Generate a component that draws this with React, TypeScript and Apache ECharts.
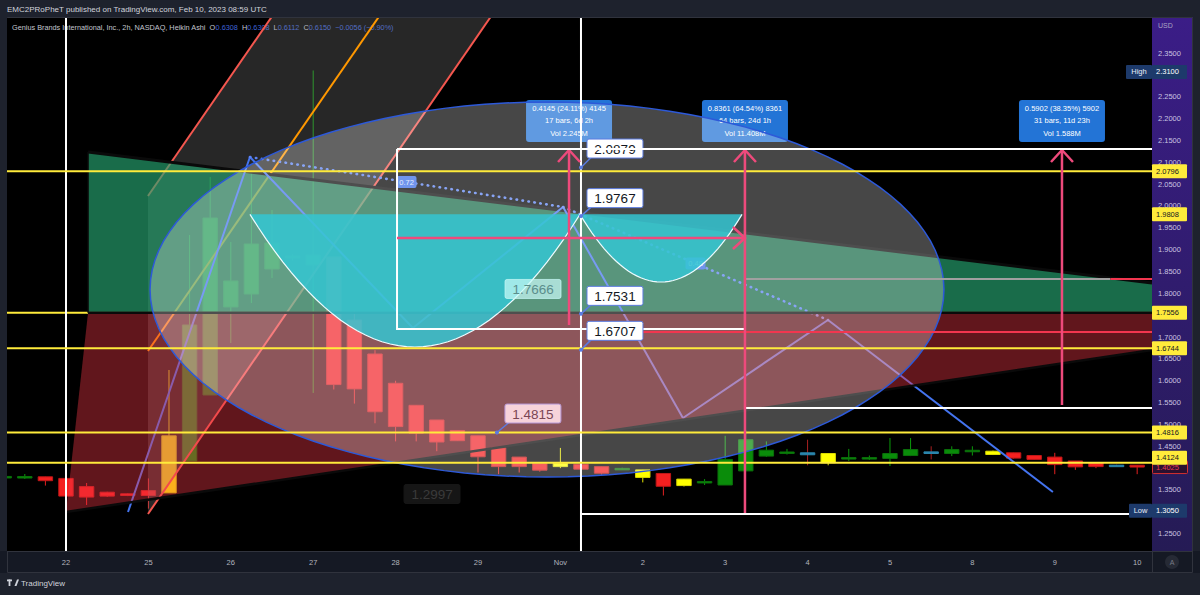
import React, { useEffect, useRef } from 'react';
import * as echarts from 'echarts';

// ---------------- axes ----------------
const X_MIN = 0.136;
const X_MAX = 55.72;
const Y_MIN = 1.2104;
const Y_MAX = 2.4301;
// ticks that are not hidden behind the price-axis badges
const priceTicks = [1.25, 1.35, 1.45, 1.5, 1.55, 1.6, 1.65, 1.7, 1.8, 1.85, 1.9, 1.95, 2.0, 2.05, 2.1, 2.15, 2.2, 2.25, 2.35];
const dayLabels = ['22', '25', '26', '27', '28', '29', 'Nov', '2', '3', '4', '5', '8', '9', '10'];
const dayLabelBars = [3, 7, 11, 15, 19, 23, 27, 31, 35, 39, 43, 47, 51, 55];

// ---------------- Heikin Ashi bars (2h) ----------------
const opens = [1.3795, 1.3798, 1.3802, 1.3765, 1.3578, 1.345, 1.3413, 1.3486, 1.3434, 1.4164, 1.5674, 1.7688, 1.7985, 1.8557, 1.8809, 1.8649, 1.8832, 1.739, 1.6612, 1.5942, 1.5438, 1.5102, 1.4862, 1.474, 1.4463, 1.4253, 1.4111, 1.4111, 1.4088, 1.4035, 1.3985, 1.396, 1.3878, 1.3749, 1.3685, 1.3614, 1.3937, 1.4276, 1.436, 1.4351, 1.4335, 1.4232, 1.4232, 1.4223, 1.4289, 1.4372, 1.4335, 1.4399, 1.4388, 1.4351, 1.4289, 1.4253, 1.4164, 1.4124, 1.4068, 1.4068];
const closes = [1.381, 1.3808, 1.3713, 1.336, 1.3338, 1.336, 1.3374, 1.3374, 1.474, 1.7276, 1.9724, 1.8283, 1.9129, 1.9152, 1.8855, 1.8878, 1.5912, 1.5813, 1.529, 1.4951, 1.48, 1.4598, 1.4628, 1.426, 1.4035, 1.4035, 1.3953, 1.4035, 1.3976, 1.3884, 1.3995, 1.3788, 1.3585, 1.3601, 1.3695, 1.42, 1.4651, 1.4411, 1.437, 1.4306, 1.4124, 1.4242, 1.4242, 1.4335, 1.4425, 1.4335, 1.4425, 1.4409, 1.4312, 1.423, 1.42, 1.4081, 1.4029, 1.4035, 1.4062, 1.4025];
const lows = [1.378, 1.3752, 1.3601, 1.334, 1.3157, 1.334, 1.336, 1.3074, 1.3434, 1.4164, 1.5674, 1.6864, 1.7779, 1.8351, 1.875, 1.572, 1.58, 1.5477, 1.5026, 1.4612, 1.4612, 1.4388, 1.4628, 1.39, 1.3862, 1.39, 1.392, 1.4, 1.395, 1.385, 1.396, 1.3674, 1.3374, 1.358, 1.3614, 1.3614, 1.3937, 1.426, 1.4312, 1.4065, 1.4065, 1.4164, 1.4187, 1.4049, 1.4276, 1.42, 1.4276, 1.4289, 1.43, 1.422, 1.419, 1.3862, 1.396, 1.4, 1.405, 1.3862];
const highs = [1.383, 1.3866, 1.3802, 1.378, 1.366, 1.346, 1.342, 1.3765, 1.6246, 1.9335, 2.0662, 1.9175, 2.0754, 1.9907, 1.89, 2.31, 1.8832, 1.76, 1.67, 1.6, 1.5438, 1.5102, 1.4862, 1.474, 1.4463, 1.4253, 1.4111, 1.4463, 1.4088, 1.4035, 1.401, 1.396, 1.3878, 1.3749, 1.3749, 1.474, 1.4873, 1.4612, 1.444, 1.4651, 1.4335, 1.444, 1.4289, 1.469, 1.469, 1.45, 1.45, 1.45, 1.44, 1.4351, 1.4289, 1.4351, 1.4164, 1.4124, 1.408, 1.4068];
const barColors = ['g', 'g', 'r', 'r', 'r', 'r', 'r', 'r', 'y', 'g', 'g', 'g', 'g', 'g', 'g', 'g', 'r', 'r', 'r', 'r', 'r', 'r', 'r', 'r', 'r', 'r', 'r', 'y', 'r', 'r', 'g', 'y', 'r', 'y', 'g', 'g', 'g', 'g', 'g', 't', 'y', 'g', 'g', 'g', 'g', 't', 'g', 'g', 'y', 'r', 'r', 'r', 'r', 'r', 't', 'r'];

// ---------------- drawings (bar index, price) ----------------
const yellowLevels = [2.0796, 1.6744, 1.4816, 1.4124];
const zoneMid = 1.7556;
const zoneLeftBars = [4.07, 3.0];
const zoneTop = [2.1235, 1.8237];
const zoneBottom = [1.2997, 1.6704];
const channelStartBar = 6.98;
const channelStartLevels = [2.0228, 1.6681, 1.2951];
const channelEndBars = [13.55, 18.75, 24.18];
const channelEndLevel = 2.4713;
const ellipseCenter = [26.35, 1.8088];
const ellipseRadius = [19.27, 0.4291];
const cupBars = [11.93, 27.95, 35.82];
const cupLevels = [1.9808, 1.6772, 1.826];
const patternBars = [6.01, 11.93, 19.84, 27.13, 32.95, 39.99, 50.91];
const patternLevels = [1.2997, 2.112, 1.7207, 1.9976, 1.5148, 1.739, 1.3454];
const patternRatios = ['0.72', '0.48'];
const whiteVerticalBars = [3, 28];
const whiteRayLevels = [2.1303, 1.5376, 1.295];
const whiteRayStartBars = [19.07, 35.96, 28.0];
const boxBars = [19.07, 35.96];
const boxLevels = [2.1303, 1.7184];
const grayRayLevel = 1.8328;
const grayRayBars = [35.96, 53.7];
const redRayLevels = [1.7116, 1.8328];
const redRayStartBars = [31.0, 53.7];
const measureBars = [27.42, 35.96, 51.35];
const measureFrom = [1.7276, 1.2974, 1.5445];
const measureTo = [2.128, 2.128, 2.128];
const measureTexts = [
  ['0.4145 (24.11%) 4145', '17 bars, 6d 2h', 'Vol 2.245M'],
  ['0.8361 (64.54%) 8361', '64 bars, 24d 1h', 'Vol 11.408M'],
  ['0.5902 (38.35%) 5902', '31 bars, 11d 23h', 'Vol 1.588M'],
];
const measureHBars = [19.07, 35.96];
const measureHLevel = 1.9267;
const calloutValues = [2.0879, 1.9767, 1.7531, 1.6707, 1.7666, 1.4815, 1.2997];
const calloutBars = [28.0, 28.0, 28.0, 28.0, 24.07, 23.92, 19.41];
const badgeLevels = [2.0796, 1.9808, 1.7556, 1.6744, 1.4816, 1.4124];
const highLevel = 2.31;
const lowLevel = 1.305;
const lastClose = 1.4025;

// ---------------- styles ----------------
const FONT = '"Liberation Sans", Arial, sans-serif';
const CANDLE_STYLE: any = {
  r: { body: '#f42020', border: '#c01818', wick: '#e42020' },
  g: { body: '#0a8c0a', border: '#0a700a', wick: '#0a9a0a' },
  y: { body: '#ffff00', border: '#dada00', wick: '#e6e600' },
  t: { body: '#2b86ad', border: '#2b86ad', wick: '#a82020' },
};
const PINK = '#ee4a7c';
const CALLOUT_STYLE: any[] = [
  { dx: 6, dy: -19, kind: 'white', line: true },
  { dx: 6, dy: -18, kind: 'white', line: true },
  { dx: 6, dy: -18, kind: 'white', line: true },
  { dx: 6, dy: -19, kind: 'white', line: true },
  { dx: 5, dy: -19, kind: 'cyan', line: false },
  { dx: 8, dy: -19, kind: 'pink', line: true },
  { dx: 0, dy: -18, kind: 'dark', line: false },
];
const CALLOUT_KIND: any = {
  white: { fill: '#ffffff', stroke: '#5b7be0', text: '#131722' },
  cyan: { fill: 'rgba(200,250,246,0.72)', stroke: 'rgba(200,250,246,0.72)', text: '#5b8e8c' },
  pink: { fill: '#f7d3da', stroke: '#b596d6', text: '#7a4654' },
  dark: { fill: 'rgba(24,24,24,0.9)', stroke: 'rgba(24,24,24,0.9)', text: '#3a3a3a' },
};

const ln = (a: number[], b: number[], stroke: string, w = 2, dash?: number[]) => ({
  type: 'line',
  shape: { x1: a[0], y1: a[1], x2: b[0], y2: b[1] },
  style: { stroke, lineWidth: w, lineDash: dash, fill: 'none', lineCap: dash ? 'round' : 'butt' },
});
const pl = (pts: number[][], stroke: string, w = 2) => ({
  type: 'polyline',
  shape: { points: pts },
  style: { stroke, lineWidth: w, fill: 'none' },
});
const rc = (x: number, y: number, w: number, h: number, fill: string, stroke = 'none', r = 0) => ({
  type: 'rect',
  shape: { x, y, width: w, height: h, r },
  style: { fill, stroke, lineWidth: 1 },
});
const tx = (x: number, y: number, s: string, fill: string, size: number, align = 'left') => ({
  type: 'text',
  x,
  y,
  style: { text: s, fill, fontSize: size, fontFamily: FONT, align, verticalAlign: 'middle' },
});

const layer = (z: number, build: (api: any) => any[], clip = true) => ({
  type: 'custom',
  z,
  clip,
  silent: true,
  data: [[1, 1.5]],
  encode: { x: 0, y: 1 },
  renderItem: (_p: any, api: any) => ({ type: 'group', children: build(api) }),
});

function buildOption() {
  const candles = {
    type: 'custom',
    z: 2,
    clip: true,
    silent: true,
    data: opens.map((o, i) => [i, o, closes[i], lows[i], highs[i]]),
    encode: { x: 0, y: [1, 2, 3, 4] },
    renderItem: (params: any, api: any) => {
      const i = api.value(0);
      const st = CANDLE_STYLE[barColors[params.dataIndex]];
      const po = api.coord([i, api.value(1)]);
      const pc = api.coord([i, api.value(2)]);
      const plw = api.coord([i, api.value(3)]);
      const ph = api.coord([i, api.value(4)]);
      const w = api.size([1, 0])[0] * 0.7;
      const top = Math.min(po[1], pc[1]);
      const h = Math.max(Math.abs(po[1] - pc[1]), 1.5);
      return {
        type: 'group',
        children: [
          ln(ph, plw, st.wick, 1),
          rc(po[0] - w / 2, top, w, h, st.body, st.border),
        ],
      };
    },
  };

  const channel = layer(3, (api) => {
    const s = channelStartLevels.map((p) => api.coord([channelStartBar, p]));
    const e = channelEndBars.map((v) => api.coord([v, channelEndLevel]));
    return [
      { type: 'polygon', shape: { points: [s[0], e[0], e[2], s[2]] }, style: { fill: 'rgba(140,140,140,0.28)', stroke: 'none' } },
      ln(s[0], e[0], '#f4574f', 2),
      ln(s[1], e[1], '#ff9800', 2),
      ln(s[2], e[2], '#f4574f', 2),
      ln(api.coord([X_MIN - 1, zoneMid]), api.coord([X_MAX + 1, zoneMid]), '#ffeb3b', 2),
    ];
  });

  const greenZone = layer(4, (api) => {
    const a = api.coord([zoneLeftBars[0], zoneTop[0]]);
    const b = api.coord([X_MAX, zoneTop[1]]);
    const c = api.coord([X_MAX, zoneMid]);
    const d = api.coord([zoneLeftBars[0], zoneMid]);
    return [
      { type: 'polygon', shape: { points: [a, b, c, d] }, style: { fill: 'rgba(38,166,114,0.65)', stroke: 'none' } },
      ln(a, b, '#0a0a0a', 3),
      ln(a, d, '#0a0a0a', 1.5),
    ];
  });

  const pattern = layer(5, (api) => {
    const pts = patternBars.map((v, i) => api.coord([v, patternLevels[i]]));
    const out: any[] = [];
    for (let i = 0; i < pts.length - 1; i++) out.push(ln(pts[i], pts[i + 1], '#4474f0', 2));
    const ratioPairs = [[1, 3], [3, 5]];
    ratioPairs.forEach(([a, b], k) => {
      out.push(ln(pts[a], pts[b], '#5b82f2', 2.6, [0.5, 5.5]));
      const mx = (pts[a][0] + pts[b][0]) / 2;
      const my = (pts[a][1] + pts[b][1]) / 2;
      out.push(rc(mx - 10, my - 6, 20, 12, '#3a6ce6', 'none', 2));
      out.push(tx(mx, my, patternRatios[k], '#dce6ff', 7.5, 'center'));
    });
    return out;
  });

  const redZone = layer(6, (api) => {
    const d = api.coord([zoneLeftBars[0], zoneMid]);
    const c = api.coord([X_MAX, zoneMid]);
    const e = api.coord([X_MAX, zoneBottom[1]]);
    const f = api.coord([zoneLeftBars[1], zoneBottom[0]]);
    return [
      { type: 'polygon', shape: { points: [d, c, e, f] }, style: { fill: 'rgba(242,54,69,0.4)', stroke: 'none' } },
      ln(f, e, '#0a0a0a', 2.5),
      ln(d, c, '#0a0a0a', 2.5),
    ];
  });

  const measureBoxes = layer(7, (api) => {
    const out: any[] = [];
    measureBars.forEach((v, i) => {
      const t = api.coord([v, measureTo[i]]);
      const bx = t[0] - 43;
      const by = t[1] - 8 - 42;
      out.push(rc(bx, by, 86, 42, '#2374d6', 'none', 3));
      measureTexts[i].forEach((s, k) => out.push(tx(t[0], by + 8 + k * 12.8, s, '#ffffff', 7.5, 'center')));
    });
    return out;
  });

  const ellipse = layer(8, (api) => {
    const pts: number[][] = [];
    for (let k = 0; k < 120; k++) {
      const a = (k / 120) * Math.PI * 2;
      pts.push(api.coord([ellipseCenter[0] + ellipseRadius[0] * Math.cos(a), ellipseCenter[1] + ellipseRadius[1] * Math.sin(a)]));
    }
    return [{ type: 'polygon', shape: { points: pts }, style: { fill: 'rgba(255,255,255,0.28)', stroke: '#2d59d8', lineWidth: 1.5 } }];
  });

  const cup = layer(9, (api) => {
    const [l, r, he] = cupBars;
    const [rim, cupLow, handleLow] = cupLevels;
    const curve: number[][] = [];
    const arc = (from: number, to: number, low: number) => {
      const mid = (from + to) / 2;
      const half = (to - from) / 2;
      for (let k = 0; k <= 40; k++) {
        const v = from + ((to - from) * k) / 40;
        const u = (v - mid) / half;
        curve.push(api.coord([v, low + (rim - low) * u * u]));
      }
    };
    arc(l, r, cupLow);
    arc(r, he, handleLow);
    return [
      { type: 'polygon', shape: { points: curve }, style: { fill: 'rgba(52,198,210,0.85)', stroke: 'none' } },
      pl(curve, '#eefcff', 1.2),
    ];
  });

  const lines = layer(10, (api) => {
    const out: any[] = [];
    whiteVerticalBars.forEach((v) => out.push(ln(api.coord([v, Y_MIN - 1]), api.coord([v, Y_MAX + 1]), '#ffffff', 2)));
    yellowLevels.forEach((p) => out.push(ln(api.coord([X_MIN - 1, p]), api.coord([X_MAX + 1, p]), '#ffeb3b', 2)));
    whiteRayLevels.forEach((p, i) => {
      if (i > 0) out.push(ln(api.coord([whiteRayStartBars[i], p]), api.coord([X_MAX + 1, p]), '#ffffff', 2));
    });
    const tl = api.coord([boxBars[0], boxLevels[0]]);
    const br = api.coord([boxBars[1], boxLevels[1]]);
    out.push(pl([[tl[0], tl[1]], [tl[0], br[1]], [br[0], br[1]], [br[0], tl[1]]], '#ffffff', 2));
    out.push(ln(api.coord([grayRayBars[0], grayRayLevel]), api.coord([grayRayBars[1], grayRayLevel]), '#a0a0a0', 2));
    redRayLevels.forEach((p, i) => out.push(ln(api.coord([redRayStartBars[i], p]), api.coord([X_MAX + 1, p]), '#f2364f', 2)));
    return out;
  });

  const arrows = layer(11, (api) => {
    const out: any[] = [];
    measureBars.forEach((v, i) => {
      const a = api.coord([v, measureFrom[i]]);
      const b = api.coord([v, measureTo[i]]);
      out.push(ln(a, b, PINK, 2.5));
      out.push(pl([[b[0] - 11, b[1] + 12], [b[0], b[1]], [b[0] + 11, b[1] + 12]], PINK, 2.5));
    });
    const h1 = api.coord([measureHBars[0], measureHLevel]);
    const h2 = api.coord([measureHBars[1], measureHLevel]);
    out.push(ln(h1, h2, PINK, 2.5));
    out.push(pl([[h2[0] - 12, h2[1] - 11], [h2[0], h2[1]], [h2[0] - 12, h2[1] + 11]], PINK, 2.5));
    return out;
  });

  const callouts = layer(12, (api) => {
    const out: any[] = [];
    calloutValues.forEach((val, i) => {
      const st = CALLOUT_STYLE[i];
      const k = CALLOUT_KIND[st.kind];
      const a = api.coord([calloutBars[i], val]);
      const bx = a[0] + st.dx;
      const cy = a[1] + st.dy;
      if (st.line) {
        out.push(ln(a, [bx + 4, cy + 9], '#5b7be0', 1.5));
        out.push({ type: 'circle', shape: { cx: a[0], cy: a[1], r: 2 }, style: { fill: '#5b7be0', stroke: 'none' } });
      }
      out.push(rc(bx, cy - 9.5, 56, 19, k.fill, k.stroke, 2));
      out.push(tx(bx + 28, cy + 0.5, val.toFixed(4), k.text, 13.5, 'center'));
    });
    return out;
  });

  // the top ray of the box is drawn over the callouts, as in the reference
  const topRay = layer(12.5, (api) => [
    ln(api.coord([whiteRayStartBars[0], whiteRayLevels[0]]), api.coord([X_MAX + 1, whiteRayLevels[0]]), '#ffffff', 2),
  ]);

  const badges = layer(13, (api) => {
    const xr = api.coord([X_MAX, 1.5])[0];
    const out: any[] = [];
    const yc = (p: number) => api.coord([X_MAX, p])[1];
    const ly = yc(lastClose);
    out.push(rc(xr + 0.5, ly - 6.5, 35, 13, '#2a1030', '#d32f2f', 1));
    out.push(tx(xr + 4, ly, lastClose.toFixed(4), '#e53950', 7.5));
    badgeLevels.forEach((p, i) => {
      const y = yc(p) - (i === badgeLevels.length - 1 ? 5 : 0);
      out.push(rc(xr, y - 7, 35, 14, '#ffeb3b', 'none', 1));
      out.push(tx(xr + 4, y, p.toFixed(4), '#131722', 7.5));
    });
    const hy = yc(highLevel) + 1.5;
    out.push(rc(xr - 26, hy - 7, 26, 14, '#1d3a6b', 'none', 1));
    out.push(tx(xr - 13, hy, 'High', '#e8eef8', 7.5, 'center'));
    out.push(rc(xr, hy - 7, 35, 14, '#1d3a6b', 'none', 1));
    out.push(tx(xr + 4, hy, highLevel.toFixed(4), '#ffffff', 7.5));
    const lyy = yc(lowLevel) + 1;
    out.push(rc(xr - 23, lyy - 7, 23, 14, '#1d3a6b', 'none', 1));
    out.push(tx(xr - 11.5, lyy, 'Low', '#e8eef8', 7.5, 'center'));
    out.push(rc(xr, lyy - 7, 35, 14, '#1d3a6b', 'none', 1));
    out.push(tx(xr + 4, lyy, lowLevel.toFixed(4), '#ffffff', 7.5));
    return out;
  }, false);

  const chrome: any[] = [
    { type: 'rect', z: -10, shape: { x: 1152, y: 17, width: 41, height: 534 }, style: { fill: { type: 'linear', x: 0, y: 0, x2: 0, y2: 1, colorStops: [{ offset: 0, color: '#3b1d87' }, { offset: 1, color: '#251b55' }] } } },
    { type: 'rect', z: -10, shape: { x: 0, y: 551, width: 1200, height: 22 }, style: { fill: '#151924' } },
    { type: 'rect', z: -9, shape: { x: 7.5, y: 17.5, width: 1185, height: 555 }, style: { fill: 'none', stroke: '#30333d', lineWidth: 1 } },
    { type: 'line', z: -9, shape: { x1: 7, y1: 551.5, x2: 1193, y2: 551.5 }, style: { stroke: '#30333d', lineWidth: 1 } },
    { type: 'line', z: -9, shape: { x1: 1152.5, y1: 551, x2: 1152.5, y2: 573 }, style: { stroke: '#30333d', lineWidth: 1 } },
    { type: 'text', z: 30, x: 7, y: 9.5, style: { text: 'EMC2PRoPheT published on TradingView.com, Feb 10, 2023 08:59 UTC', fill: '#d1d4dc', fontSize: 8, fontFamily: FONT, verticalAlign: 'middle' } },
    {
      type: 'text', z: 1, x: 12, y: 27,
      style: {
        text: '{g|Genius Brands International, Inc., 2h, NASDAQ, Heikin Ashi  O}{b|0.6308}{g|  H}{b|0.6308}{g|  L}{b|0.6112}{g|  C}{b|0.6150}{b|  \u22120.0056 (\u22120.90%)}',
        verticalAlign: 'middle', fontFamily: FONT, fontSize: 7.3,
        rich: { g: { fill: '#c3c6ce', fontSize: 7.3, fontFamily: FONT }, b: { fill: '#3f63d8', fontSize: 7.3, fontFamily: FONT } },
      },
    },
    { type: 'text', z: 30, x: 1158, y: 25, style: { text: 'USD', fill: '#a9a4c4', fontSize: 7, fontFamily: FONT, verticalAlign: 'middle' } },
    { type: 'circle', z: 30, shape: { cx: 1172, cy: 562, r: 7 }, style: { fill: '#262a35' } },
    { type: 'text', z: 31, x: 1172, y: 562, style: { text: 'A', fill: '#787b86', fontSize: 7, fontFamily: FONT, align: 'center', verticalAlign: 'middle' } },
    { type: 'rect', z: 30, shape: { x: 7, y: 579.5, width: 5, height: 1.8 }, style: { fill: '#d1d4dc' } },
    { type: 'rect', z: 30, shape: { x: 8.6, y: 579.5, width: 1.8, height: 6.5 }, style: { fill: '#d1d4dc' } },
    { type: 'circle', z: 30, shape: { cx: 13.8, cy: 580.6, r: 1.1 }, style: { fill: '#d1d4dc' } },
    { type: 'polygon', z: 30, shape: { points: [[14.5, 586], [17, 579.5], [19, 579.5], [16.5, 586]] }, style: { fill: '#d1d4dc' } },
    { type: 'text', z: 30, x: 21, y: 583, style: { text: 'TradingView', fill: '#d1d4dc', fontSize: 8, fontFamily: FONT, verticalAlign: 'middle' } },
  ];

  return {
    animation: false,
    backgroundColor: '#1e222d',
    grid: { left: 7, right: 48, top: 18, bottom: 44, show: true, backgroundColor: '#000000', borderWidth: 0, outerBoundsMode: 'none' },
    xAxis: {
      type: 'value', min: X_MIN, max: X_MAX,
      axisLine: { show: false }, axisTick: { show: false }, splitLine: { show: false },
      axisLabel: {
        customValues: dayLabelBars,
        formatter: (v: number) => dayLabels[dayLabelBars.indexOf(Math.round(v))] || '',
        color: '#b2b5be', fontSize: 7.5, fontFamily: FONT, margin: 7,
      },
    },
    yAxis: {
      type: 'value', position: 'right', min: Y_MIN, max: Y_MAX,
      axisLine: { show: false }, axisTick: { show: false }, splitLine: { show: false },
      axisLabel: {
        customValues: priceTicks,
        formatter: (v: number) => v.toFixed(4),
        color: '#c9c4e0', fontSize: 7.5, fontFamily: FONT, margin: 6, align: 'left',
      },
    },
    graphic: chrome,
    series: [candles, channel, greenZone, pattern, redZone, measureBoxes, ellipse, cup, lines, arrows, callouts, topRay, badges],
  };
}

export default function App() {
  const ref = useRef<HTMLDivElement>(null);
  useEffect(() => {
    document.body.style.margin = '0';
    const chart = echarts.init(ref.current as HTMLDivElement, null, { renderer: 'svg' });
    chart.setOption(buildOption() as any);
    return () => chart.dispose();
  }, []);
  return <div ref={ref} style={{ position: 'absolute', left: 0, top: 0, width: 1200, height: 595 }} />;
}
